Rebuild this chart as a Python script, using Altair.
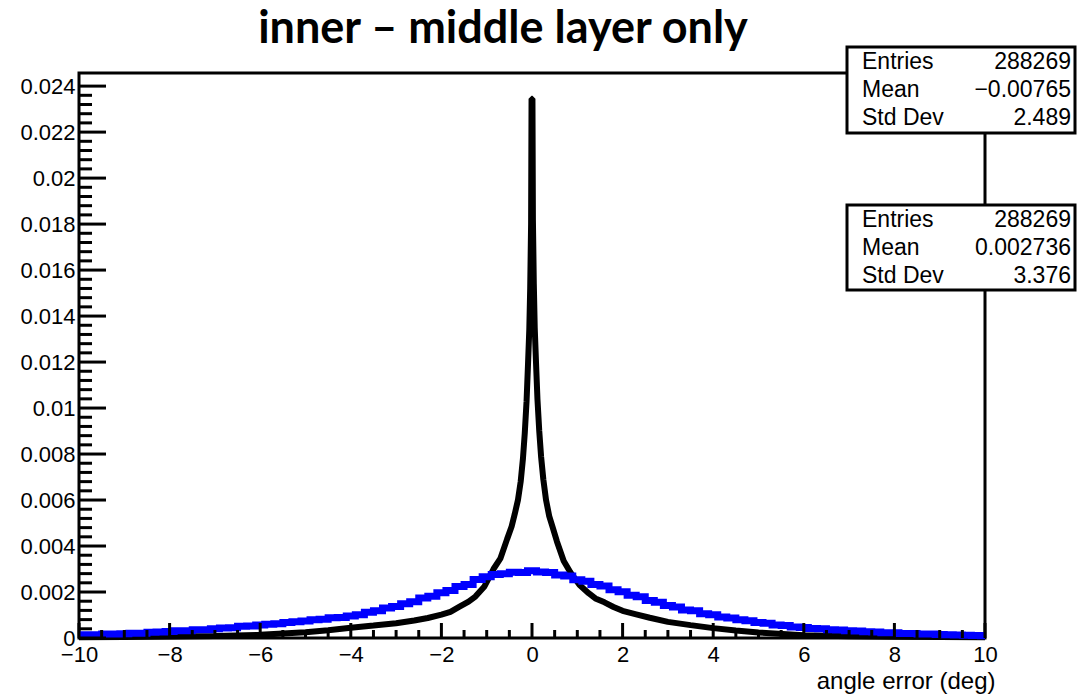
import altair as alt
import pandas as pd

# ---- text ----
title_text = "inner – middle layer only"
x_title = "angle error (deg)"
stat_names = ["Entries", "Mean", "Std Dev"]
stats_black = ["288269", "−0.00765", "2.489"]
stats_blue = ["288269", "0.002736", "3.376"]

# ---- axis ticks ----
x_major = [-10, -8, -6, -4, -2, 0, 2, 4, 6, 8, 10]
x_minor = [v / 2 for v in range(-20, 21) if v % 4]
y_major = [0, 0.002, 0.004, 0.006, 0.008, 0.01, 0.012, 0.014, 0.016, 0.018, 0.02, 0.022, 0.024]
y_minor = [i * 0.0004 for i in range(1, 61) if i % 5]
y_top = 0.02457

# ---- black histogram (sharp peak) ----
black_x = [-10, -9, -8, -7, -6, -5, -4.5, -4, -3.5, -3, -2.6, -2.3, -2, -1.8, -1.6, -1.4,
           -1.25, -1.05, -0.85, -0.7, -0.55, -0.45, -0.38, -0.31, -0.25, -0.2, -0.16, -0.12,
           -0.09, -0.06, -0.04, -0.02, -0.01, 0.01, 0.02, 0.04, 0.06, 0.09, 0.12, 0.16, 0.2,
           0.25, 0.31, 0.38, 0.45, 0.55, 0.7, 0.85, 1.05, 1.25, 1.4, 1.6, 1.8, 2, 2.3, 2.6,
           3, 3.5, 4, 4.5, 5, 6, 7, 8, 9, 10]
black_y = [0.00003, 0.00004, 0.00006, 0.00009, 0.00014, 0.00025, 0.00034, 0.00045, 0.00054,
           0.00064, 0.00076, 0.00087, 0.00102, 0.00114, 0.00136, 0.00158, 0.00180, 0.00224,
           0.00300, 0.00345, 0.00430, 0.00485, 0.00540, 0.00600, 0.00680, 0.00780, 0.00890,
           0.01030, 0.01180, 0.01340, 0.01520, 0.01800, 0.02345, 0.02345, 0.01820, 0.01540,
           0.01350, 0.01190, 0.01040, 0.00900, 0.00790, 0.00690, 0.00600, 0.00530, 0.00485,
           0.00420, 0.00335, 0.00285, 0.00230, 0.00195, 0.00172, 0.00155, 0.00135, 0.00118,
           0.00103, 0.00088, 0.00070, 0.00056, 0.00043, 0.00033, 0.00024, 0.00012, 0.00008,
           0.00005, 0.00004, 0.00003]

# ---- blue histogram (broad), one value per 0.2 deg from -10 to 10 ----
blue_y = [0.00012, 0.00014, 0.00014, 0.00017, 0.00017, 0.00019, 0.00021, 0.00021, 0.00025,
          0.00026, 0.00028, 0.00031, 0.00032, 0.00036, 0.00036, 0.00040, 0.00044, 0.00045,
          0.00051, 0.00052, 0.00056, 0.00060, 0.00062, 0.00067, 0.00071, 0.00074, 0.00079,
          0.00081, 0.00088, 0.00089, 0.00096, 0.00101, 0.00112, 0.00118, 0.00130, 0.00137,
          0.00149, 0.00158, 0.00174, 0.00182, 0.00197, 0.00207, 0.00224, 0.00233, 0.00254,
          0.00266, 0.00276, 0.00279, 0.00286, 0.00285, 0.00292, 0.00287, 0.00285, 0.00274,
          0.00270, 0.00253, 0.00247, 0.00233, 0.00226, 0.00210, 0.00201, 0.00186, 0.00179,
          0.00163, 0.00155, 0.00141, 0.00135, 0.00122, 0.00118, 0.00106, 0.00101, 0.00091,
          0.00087, 0.00079, 0.00075, 0.00067, 0.00064, 0.00057, 0.00054, 0.00048, 0.00046,
          0.00041, 0.00040, 0.00036, 0.00035, 0.00031, 0.00030, 0.00027, 0.00026, 0.00023,
          0.00023, 0.00020, 0.00020, 0.00017, 0.00017, 0.00015, 0.00014, 0.00013, 0.00012,
          0.00011, 0.00010]
blue_x = [round(-10 + 0.2 * i, 1) for i in range(len(blue_y))]

W, H = 906, 565
FONT = "Liberation Sans"

xs = alt.Scale(domain=[-10, 10], nice=False, zero=False)
ys = alt.Scale(domain=[0, y_top], nice=False, zero=False)

black_df = pd.DataFrame({"x": black_x, "y": black_y})
blue_df = pd.DataFrame({"x": blue_x, "y": blue_y})

black = alt.Chart(black_df).mark_line(color="black", strokeWidth=6, strokeJoin="bevel").encode(
    x=alt.X("x:Q", scale=xs,
            axis=alt.Axis(values=x_major, format="d", title=x_title,
                          titleFont=FONT, titleFontSize=24, titleFontWeight="normal",
                          titleColor="black", titleAnchor="end", titleAlign="right",
                          titleBaseline="alphabetic", titleX=916, titleY=50,
                          labelPadding=6, labelFlush=False, labelOverlap=False)),
    y=alt.Y("y:Q", scale=ys,
            axis=alt.Axis(values=y_major, format="~g", title=None, labelPadding=4,
                          labelFlush=False, labelOverlap=False)),
)

blue = alt.Chart(blue_df).mark_line(color="#0000ff", strokeWidth=7, interpolate="step").encode(
    x=alt.X("x:Q", scale=xs), y=alt.Y("y:Q", scale=ys)
)

# inward-pointing tick marks
def yticks(vals, length):
    return alt.Chart(pd.DataFrame({"v": vals})).mark_rule(color="black", strokeWidth=3).encode(
        y=alt.Y("v:Q", scale=ys), x=alt.value(0), x2=alt.value(length))

def xticks(vals, length):
    return alt.Chart(pd.DataFrame({"v": vals})).mark_rule(color="black", strokeWidth=3).encode(
        x=alt.X("v:Q", scale=xs), y=alt.value(H), y2=alt.value(H - length))

ticks = [yticks(y_major, 27), yticks(y_minor, 13), xticks(x_major, 15), xticks(x_minor, 8)]

# statistics boxes
box_df = pd.DataFrame({"top": [-26, 132], "bottom": [60, 217]})
boxes = alt.Chart(box_df).mark_rect(fill="white", stroke="black", strokeWidth=3).encode(
    y=alt.Y("top:Q", scale=None), y2="bottom:Q", x=alt.value(768), x2=alt.value(996))

rows = []
for b, vals in enumerate([stats_black, stats_blue]):
    for r, (name, val) in enumerate(zip(stat_names, vals)):
        rows.append({"name": name, "val": val, "box": b, "row": r})
stat_df = pd.DataFrame(rows)
row_y = "datum.box * 158 + datum.row * 28 - 11"
stat_names_layer = alt.Chart(stat_df).transform_calculate(py=row_y).mark_text(
    align="left", baseline="middle", font=FONT, fontSize=23, color="black").encode(
    y=alt.Y("py:Q", scale=None), x=alt.value(783), text="name:N")
stat_vals_layer = alt.Chart(stat_df).transform_calculate(py=row_y).mark_text(
    align="right", baseline="middle", font=FONT, fontSize=23, color="black").encode(
    y=alt.Y("py:Q", scale=None), x=alt.value(992), text="val:N")

chart = alt.layer(black, blue, *ticks, boxes, stat_names_layer, stat_vals_layer).properties(
    width=W, height=H,
    background="white",
    title=alt.TitleParams(text=title_text, font="Lato", fontSize=45, fontWeight="bold",
                          anchor="middle", frame="group", dx=-29, offset=-6, color="black"),
    padding={"left": 79, "top": 73, "right": 104, "bottom": 62},
    autosize=alt.AutoSizeParams(type="none"),
).configure_view(stroke="black", strokeWidth=3).configure_axis(
    domain=False, ticks=False, tickSize=0, grid=False,
    labelFont=FONT, labelFontSize=22, labelColor="black",
)

chart.save("out.html", embed_options={"renderer": "svg", "actions": False})
